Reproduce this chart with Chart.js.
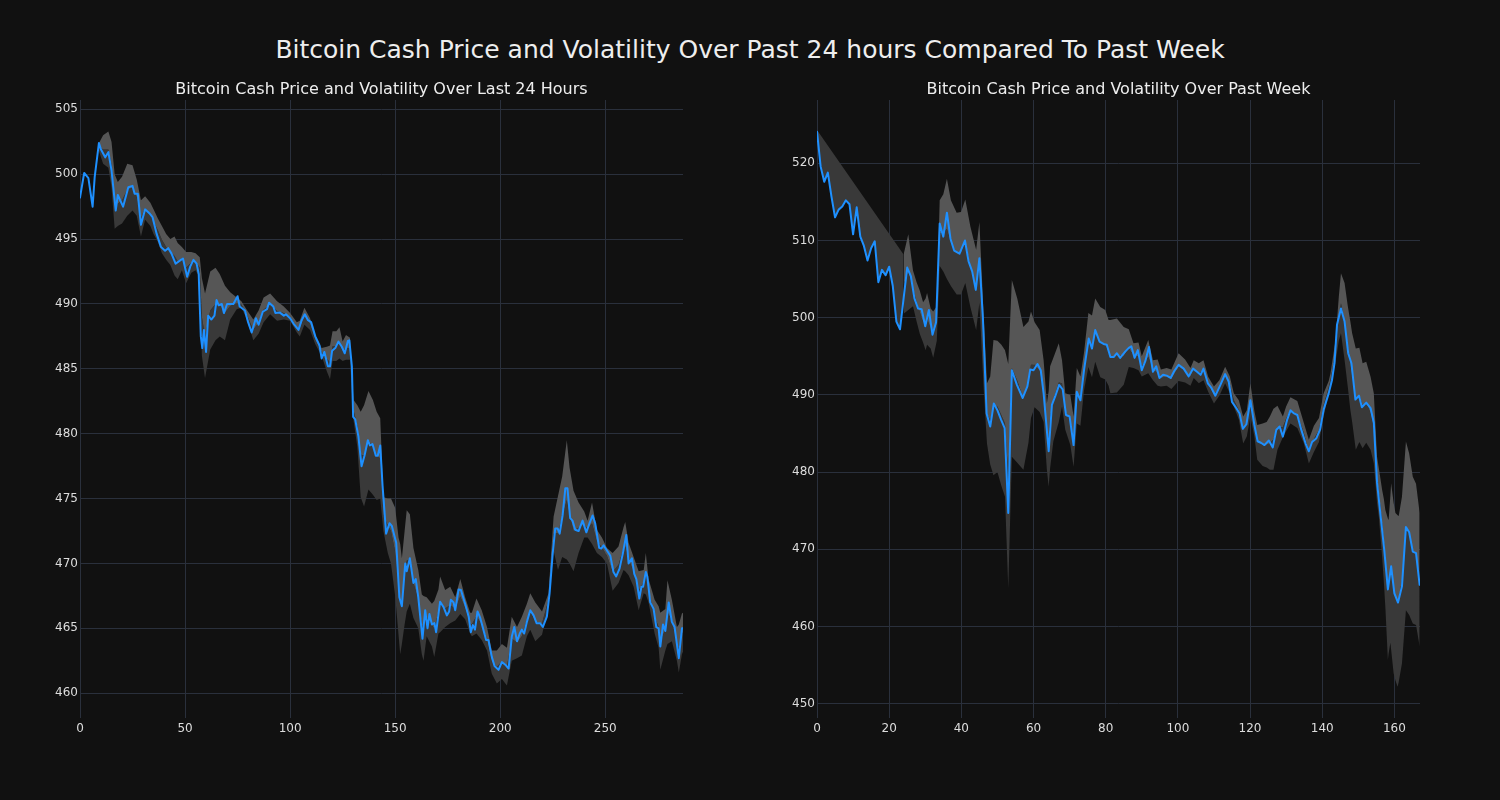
<!DOCTYPE html>
<html>
<head>
<meta charset="utf-8">
<script src="https://cdn.jsdelivr.net/npm/chart.js@4.4.1/dist/chart.umd.min.js"></script>
<style>
  html, body { margin: 0; padding: 0; background: #111111; }
  body { width: 1500px; height: 800px; position: relative; overflow: hidden; font-family: "DejaVu Sans", sans-serif; }
  #title { position: absolute; left: 0; top: 35px; width: 1500px; text-align: center; font-size: 25px; line-height: 30px; color: #eeeeee; }
  canvas { position: absolute; top: 60px; }
  #day-chart { left: 0; }
  #week-chart { left: 740px; }
</style>
</head>
<body>
<div id="title">Bitcoin Cash Price and Volatility Over Past 24 hours Compared To Past Week</div>
<canvas id="day-chart" width="700" height="700"></canvas>
<canvas id="week-chart" width="700" height="700"></canvas>
<script>
// last 24 hours, 5 minute steps
const dayX = [0, 2, 4, 6, 7, 9, 10, 12, 13.5, 15, 17, 18, 20.5, 23, 25, 26, 27.5, 29, 31, 33,
  34.5, 36.5, 38.5, 40.5, 42, 43.5, 45.5, 48, 49, 51, 52.5, 54, 55.5, 56.5, 57.5, 58.2, 59, 60, 61, 62.5,
  64, 65, 66, 67.5, 68.5, 70, 71, 73, 75, 76, 78.5, 80, 81.7, 83.7, 85, 87, 89, 90, 92, 93,
  95, 97, 98, 100, 102, 104, 105.5, 107, 108.5, 110, 112, 114, 115, 116.3, 118, 119, 120, 121.5, 123, 124.6,
  126, 127.5, 128.2, 129.4, 130, 131, 132.5, 134, 135.4, 137, 138, 139.2, 140.8, 141.7, 142.9, 144, 145.7, 147.3, 148.4, 150.5,
  152, 153.2, 154.8, 155.5, 157, 158.7, 159.8, 161, 163, 164.3, 165.4, 166.3, 167.5, 168.7, 169.5, 171.4, 173, 174.6, 175.7, 176.5,
  177.8, 178.6, 180.2, 181.3, 183.3, 185, 186, 187, 188, 189.2, 190.5, 192, 193.3, 194.4, 196, 197.3, 199.2, 200.8, 202.4, 204,
  205.5, 206.7, 208, 209.3, 210.3, 211.4, 212.7, 214.3, 215.9, 217.3, 219, 220.3, 222.2, 223.5, 225, 226.2, 227.3, 228.3, 229.7, 231,
  232, 233.3, 234.4, 235.7, 237.3, 239.2, 241, 242.5, 244, 245.2, 247.1, 248.1, 249.2, 250.8, 252.4, 253.9, 255.2, 256.8, 258.4, 260,
  261.1, 262.7, 263.8, 264.8, 266.2, 267.2, 268, 269.3, 270, 271.4, 273, 274.3, 275.4, 276.2, 277.5, 278.6, 280.2, 281.7, 283, 285,
  286.5, 287]
const dayPrice = [498.2, 500.1, 499.7, 497.5, 499.8, 502.4, 501.9, 501.3, 501.7, 500.3, 497.2, 498.4, 497.5, 499.0, 499.1, 498.5, 498.5, 496.1, 497.3, 497.0,
  496.7, 495.4, 494.4, 494.1, 494.3, 493.9, 493.1, 493.4, 493.5, 492.1, 492.9, 493.4, 493.1, 492.3, 487.5, 486.6, 488.0, 486.3, 489.1, 488.8,
  489.1, 490.3, 489.9, 490.0, 489.3, 490.0, 490.0, 490.0, 490.6, 489.8, 489.5, 488.6, 487.8, 488.9, 488.4, 489.4, 489.6, 490.1, 489.8, 489.3,
  489.35, 489.1, 489.2, 488.9, 488.4, 488.0, 488.75, 489.2, 488.75, 488.6, 487.5, 486.8, 485.8, 486.3, 485.2, 485.2, 486.4, 486.6, 487.1, 486.7,
  486.2, 487.15, 487.2, 485.2, 481.3, 481.1, 479.8, 477.5, 478.3, 479.5, 479.1, 479.2, 478.3, 478.3, 479.1, 476.0, 472.3, 473.1, 472.9, 471.6,
  467.4, 466.7, 470.0, 469.4, 470.4, 468.5, 468.8, 467.4, 464.2, 466.4, 465.0, 466.1, 465.3, 465.4, 464.7, 467.05, 466.65, 466.0, 466.3, 467.2,
  467.0, 466.4, 468.0, 467.95, 466.9, 465.9, 464.7, 465.25, 464.9, 466.3, 465.8, 464.9, 464.1, 464.1, 462.8, 462.1, 461.8, 462.4, 462.2, 461.9,
  464.35, 465.1, 464.0, 464.6, 464.9, 464.6, 465.5, 466.4, 466.0, 465.4, 465.4, 465.1, 465.9, 467.7, 470.8, 472.7, 472.7, 472.3, 473.7, 475.8,
  475.8, 473.5, 473.3, 472.6, 472.5, 473.3, 472.4, 473.1, 473.7, 473.1, 471.2, 471.15, 471.4, 471.0, 470.6, 469.35, 469.0, 469.6, 470.8, 472.2,
  470.0, 470.4, 469.2, 468.8, 467.3, 468.2, 468.2, 469.35, 469.0, 467.0, 466.5, 465.1, 465.0, 463.6, 465.3, 464.8, 467.0, 465.5, 465.1, 462.7,
  465.0, 465.0]
const dayBandX = [9, 11, 13.5, 15, 16.5, 18, 20, 22.5, 25, 27, 29, 31, 33.5, 35, 37, 39, 41, 43, 45, 46.5,
  48.5, 50.5, 53, 55, 57, 58, 59.5, 62, 64.5, 66.5, 69, 71.5, 74.6, 76.8, 79.2, 82.5, 85, 87.4, 90.5, 93.8,
  97, 100, 103.2, 104.6, 106.8, 109.5, 112, 115, 117.5, 119, 120.2, 122, 123.5, 125, 126.6, 128.5, 130.2, 132, 133.6, 135.2,
  137.3, 139.4, 141.2, 142.9, 144.4, 146.5, 148, 150, 151.6, 152.4, 153.2, 154.5, 155.5, 157, 158.7, 161, 162.7, 163.5, 165, 167.5,
  168.6, 170.6, 171.4, 173.8, 176.2, 178.6, 181, 183.3, 185.7, 186.5, 188.7, 191.2, 193.7, 196, 198.4, 200.8, 203.2, 205.5, 208, 210.3,
  212.7, 214.3, 216.7, 219.9, 223, 225.4, 227.5, 229.5, 231.7, 233, 234.9, 237.3, 240, 241.6, 243.7, 246, 248.4, 250.8, 253.5, 256.3,
  258.7, 259.5, 261.1, 263.5, 265.9, 268.3, 269.3, 270.6, 273.5, 275.4, 276.2, 278.6, 279.6, 281.7, 284.1, 285, 286.5, 287]
const dayUpper = [502.4, 503.0, 503.3, 502.5, 500.0, 499.4, 499.8, 500.8, 500.7, 499.6, 498.0, 498.3, 497.8, 497.3, 496.6, 496.0, 495.4, 495.0, 495.2, 494.7,
  494.4, 494.0, 494.0, 493.9, 493.6, 492.0, 490.8, 492.5, 492.8, 492.3, 491.4, 490.9, 490.5, 490.2, 489.6, 488.8, 489.5, 490.5, 490.8, 490.2,
  489.8, 489.3, 488.6, 488.7, 489.7, 488.9, 487.5, 486.6, 486.7, 486.8, 487.9, 487.9, 488.2, 487.1, 487.6, 487.4, 482.6, 482.2, 481.7, 482.2,
  483.3, 482.6, 481.7, 481.2, 475.1, 475.0, 475.0, 474.3, 472.0, 471.5, 470.4, 472.5, 474.1, 473.8, 471.2, 469.5, 467.6, 467.5, 467.4, 466.9,
  467.1, 468.0, 469.0, 467.95, 468.2, 467.4, 468.8, 467.4, 466.2, 466.2, 467.3, 466.4, 465.1, 463.3, 463.3, 463.8, 463.5, 465.9, 465.1, 465.9,
  466.9, 467.7, 467.0, 466.3, 467.7, 473.6, 475.2, 476.7, 479.5, 477.4, 475.6, 474.7, 474.0, 473.3, 474.7, 472.6, 472.0, 471.2, 470.8, 471.3,
  472.8, 473.2, 471.6, 470.5, 469.4, 469.5, 470.8, 468.8, 467.2, 466.7, 466.2, 466.5, 468.7, 467.2, 465.1, 465.3, 466.15, 466.2]
const dayLower = [501.8, 500.8, 500.5, 499.0, 495.8, 496.0, 496.2, 496.8, 497.2, 496.8, 495.2, 496.5, 496.0, 495.4, 494.8, 493.9, 493.4, 493.0, 492.2, 491.9,
  492.6, 491.6, 492.4, 492.6, 492.0, 486.0, 484.3, 486.5, 487.2, 487.5, 487.2, 488.8, 489.6, 489.7, 488.9, 487.2, 487.7, 488.6, 489.2, 488.7,
  488.8, 488.7, 487.8, 487.5, 488.4, 488.0, 486.9, 486.0, 484.8, 484.2, 485.6, 485.6, 485.8, 485.6, 485.7, 485.7, 481.0, 479.0, 475.1, 474.4,
  475.7, 475.3, 474.9, 475.0, 472.5, 470.8, 470.0, 467.5, 464.5, 463.0, 463.8, 465.3, 466.3, 466.9, 465.8, 465.0, 463.0, 462.5, 464.4, 463.6,
  462.8, 464.6, 464.7, 465.1, 465.4, 465.6, 466.1, 465.7, 464.6, 464.4, 464.6, 464.1, 463.3, 461.5, 460.75, 461.1, 460.6, 462.5, 462.7, 462.9,
  464.4, 464.9, 464.0, 464.5, 466.7, 471.0, 469.5, 470.5, 470.3, 470.0, 469.4, 470.8, 472.0, 472.0, 471.5, 470.8, 470.5, 470.0, 467.9, 468.5,
  469.5, 469.4, 469.1, 468.2, 466.4, 467.7, 467.6, 467.0, 464.6, 463.5, 461.8, 463.3, 463.8, 464.0, 462.5, 461.6, 463.0, 463.2]
const dayXTicks = [0, 50, 100, 150, 200, 250]
const dayYTicks = [460, 465, 470, 475, 480, 485, 490, 495, 500, 505]

// past week, hourly steps
const weekX = [0, 1, 2, 3, 4, 5, 6, 7, 8, 9, 10, 11, 12, 13, 14, 15, 16, 17, 18, 19,
  20, 21, 22, 23, 24, 25, 26, 27, 28, 29, 30, 31, 32, 33, 34, 35, 36, 37, 38, 39.5,
  41, 42, 43, 44, 45, 46, 47, 48, 49, 50, 51, 52, 53, 54, 55.4, 57, 58.3, 59.1, 60, 61.1,
  62, 62.8, 64.2, 65.1, 66, 67.1, 68.1, 69, 70, 71.1, 72, 73, 74, 75.3, 76.2, 77.1, 78.3, 79.4, 80.3, 81.3,
  82.2, 83.1, 84, 85.4, 86.4, 87.1, 88, 88.9, 90, 91, 92, 93.1, 94, 94.9, 95.9, 96.9, 98, 99, 100.2, 101.6,
  103, 104.2, 105.3, 106.3, 107.1, 108.3, 109.3, 110.4, 111.8, 113.1, 114.1, 115, 116.3, 117.1, 118, 119, 120.1, 121.2, 122.1, 123,
  124, 125.2, 126.3, 127.3, 128.2, 129.1, 130.3, 131.2, 132.2, 133.1, 134.2, 135.4, 136.3, 137.2, 138.4, 139.4, 140.4, 141.8, 142.7, 143.4,
  144.1, 145.2, 146.2, 147.2, 148.1, 149.2, 150.2, 151, 152.2, 153.4, 154.3, 155.2, 156.3, 157.2, 158.2, 159.1, 160, 161, 162.1, 163.2,
  164.1, 165.1, 166, 167]
const weekPrice = [524.1, 519.6, 517.6, 518.8, 515.7, 513.0, 514.0, 514.4, 515.2, 514.7, 510.8, 514.3, 510.5, 509.3, 507.4, 509.0, 509.9, 504.6, 506.2, 505.5,
  506.6, 504.1, 499.5, 498.5, 502.5, 506.5, 505.4, 502.5, 501.2, 501.1, 498.9, 501.0, 497.8, 499.4, 512.2, 510.5, 513.6, 510.2, 508.7, 508.3,
  510.0, 507.3, 506.0, 503.6, 507.7, 499.7, 487.6, 485.9, 488.9, 488.0, 486.8, 485.7, 474.7, 493.2, 491.3, 489.6, 491.1, 493.3, 493.2, 494.0,
  493.2, 490.2, 482.7, 488.7, 489.8, 491.3, 490.7, 487.4, 487.2, 483.5, 490.4, 489.3, 493.2, 497.3, 496.0, 498.4, 496.9, 496.6, 496.5, 494.9,
  494.9, 495.4, 494.8, 495.6, 496.1, 496.3, 494.8, 495.8, 493.2, 494.4, 496.2, 493.0, 493.7, 492.2, 492.6, 492.5, 492.2, 493.1, 493.9, 493.4,
  492.4, 493.4, 493.0, 492.6, 493.4, 491.5, 490.9, 489.9, 491.3, 492.7, 491.7, 489.1, 488.2, 487.6, 485.6, 486.2, 489.3, 486.1, 484.0, 483.8,
  483.5, 484.1, 483.2, 485.5, 485.9, 484.6, 486.8, 488.0, 487.6, 487.4, 485.5, 483.7, 482.7, 483.9, 484.4, 485.5, 488.1, 490.2, 491.9, 494.1,
  499.1, 501.2, 499.5, 495.4, 494.1, 489.4, 489.9, 488.4, 489.0, 488.3, 486.4, 478.6, 473.8, 469.9, 464.8, 467.8, 464.3, 463.1, 465.2, 472.9,
  472.2, 469.7, 469.5, 465.4]
const weekStartX = [0, 24]
const weekStartUpper = [524.3, 508.2]
const weekBandX = [24, 25.3, 26.6, 27.6, 28.5, 29.4, 30.1, 30.5, 31.5, 32.2, 33.2, 34, 35, 36, 37.1, 38.7, 39.9, 41.1, 42.5, 44.1,
  45, 46.2, 47.1, 48, 48.9, 50, 51.1, 52.1, 53, 54, 55.5, 57.2, 58.6, 59.3, 60.3, 61.7, 62.8, 63.7, 64.2, 64.6,
  65.5, 67, 67.9, 68.8, 70.2, 71.1, 72, 73, 74, 75.2, 76.2, 77.1, 78.5, 79.9, 80.8, 81.3, 83.1, 85, 86.4, 87.7,
  89.1, 90, 91.8, 93.1, 94.4, 95.3, 96.9, 98.2, 100.2, 102, 103.5, 104.4, 105.8, 107.1, 108.4, 110, 111.5, 113.1, 114.4, 115.5,
  116.9, 118.1, 119.1, 120.1, 121.2, 122, 123.5, 124.6, 125.5, 126.5, 127.6, 129.1, 130, 131.2, 133.1, 134.9, 136.3, 137.7, 139.1, 140.4,
  141.8, 142.3, 143.7, 144.6, 145.2, 146.2, 147.1, 147.8, 148.3, 149.3, 150.3, 151.2, 152.2, 153.4, 154.3, 155.2, 155.7, 156.6, 157.1, 157.5,
  158.2, 158.4, 158.9, 159.1, 159.8, 160.3, 160.9, 161.2, 162.1, 163.2, 164.1, 165.1, 166, 167]
const weekUpper = [508.2, 510.8, 506.1, 504.6, 503.5, 502.0, 502.5, 503.2, 501.2, 500.8, 501.5, 515.2, 516.0, 518.0, 515.2, 513.6, 513.7, 515.3, 511.8, 508.8,
  512.4, 500.1, 491.5, 492.4, 497.1, 497.0, 496.5, 495.8, 494.0, 504.9, 502.5, 498.8, 499.5, 500.8, 499.4, 498.4, 494.5, 488.9, 490.5, 493.7,
  494.8, 496.7, 494.5, 490.2, 490.0, 487.2, 493.5, 492.4, 495.5, 500.6, 500.3, 502.5, 501.4, 501.0, 499.7, 499.7, 499.9, 498.8, 498.5, 496.7,
  496.8, 495.0, 497.1, 494.5, 494.6, 493.3, 493.5, 493.3, 495.4, 494.6, 493.5, 494.5, 494.1, 494.5, 492.35, 491.1, 491.9, 493.65, 492.4, 490.2,
  489.3, 487.2, 488.0, 491.5, 487.9, 486.1, 486.3, 486.5, 487.2, 488.2, 488.6, 487.2, 488.5, 489.7, 489.2, 486.4, 484.2, 486.0, 487.0, 490.2,
  491.8, 492.8, 497.1, 502.7, 505.75, 504.5, 501.5, 499.5, 498.0, 496.0, 496.1, 494.1, 494.3, 492.35, 490.2, 482.0, 480.5, 477.7, 476.5, 475.1,
  474.0, 473.8, 477.0, 478.55, 476.0, 474.7, 474.4, 474.3, 476.8, 483.95, 482.4, 479.4, 478.5, 474.7]
const weekLower = [500.5, 501.0, 501.5, 499.5, 497.9, 496.8, 495.8, 496.5, 496.0, 494.8, 497.0, 506.7, 506.0, 505.0, 504.1, 503.0, 503.0, 504.5, 501.4, 498.4,
  501.9, 490.7, 483.7, 481.0, 479.6, 480.0, 478.2, 476.8, 465.0, 482.0, 481.2, 480.3, 483.8, 487.0, 488.4, 487.8, 486.5, 480.3, 478.1, 480.5,
  484.0, 486.5, 488.5, 485.5, 483.5, 480.7, 486.3, 486.0, 490.6, 493.6, 492.3, 494.3, 492.3, 492.0, 491.2, 490.2, 490.3, 491.3, 493.6, 493.5,
  493.2, 492.4, 492.8, 491.9, 491.2, 491.1, 491.2, 490.75, 491.8, 491.6, 491.2, 492.2, 491.5, 491.9, 490.4, 488.9, 489.9, 491.5, 490.2, 488.5,
  486.8, 483.7, 484.6, 487.2, 484.6, 481.6, 480.8, 480.6, 480.3, 480.3, 482.9, 484.5, 485.3, 486.3, 485.7, 483.75, 481.1, 482.6, 483.9, 487.2,
  490.2, 491.0, 494.3, 497.0, 498.0, 494.5, 491.0, 488.05, 486.5, 482.9, 483.9, 483.1, 483.8, 482.9, 481.1, 476.0, 474.2, 469.0, 465.6, 462.5,
  455.7, 456.5, 457.9, 457.0, 453.9, 453.0, 452.2, 452.8, 455.2, 462.1, 461.5, 460.4, 460.2, 457.4]
const weekXTicks = [0, 20, 40, 60, 80, 100, 120, 140, 160]
const weekYTicks = [450, 460, 470, 480, 490, 500, 510, 520]

const lineColor = '#1e90ff'
const bandLight = '#565656'
const bandDark = '#393939'
const gridColor = '#2a303c'
const tickColor = '#dddddd'
const fontFamily = '"DejaVu Sans", sans-serif'

const toPoints = (xs, ys) => xs.map((x, i) => ({ x: x, y: ys[i] }))
const midOf = (up, low) => up.map((u, i) => (u + low[i]) / 2)
const fixTicks = (values) => (scale) => { scale.ticks = values.map(v => ({ value: v })) }

const subTitle = {
  id: 'subTitle',
  afterDraw (chart, args, opts) {
    const { ctx, chartArea } = chart
    ctx.save()
    ctx.font = '16px ' + fontFamily
    ctx.fillStyle = '#eeeeee'
    ctx.textAlign = 'center'
    ctx.textBaseline = 'alphabetic'
    ctx.fillText(opts.text, (chartArea.left + chartArea.right) / 2, 34)
    ctx.restore()
  }
}

function bandLine (points, fill, color) {
  return {
    data: points,
    borderColor: 'transparent',
    borderWidth: 0,
    backgroundColor: color || 'transparent',
    fill: fill
  }
}

function makeDatasets (xs, price, bandX, upper, lower) {
  return [
    { data: toPoints(xs, price), borderColor: lineColor, borderWidth: 2, fill: false },
    bandLine(toPoints(bandX, upper), false),
    bandLine(toPoints(bandX, midOf(upper, lower)), 1, bandLight),
    bandLine(toPoints(bandX, lower), 2, bandDark)
  ]
}

function makeOptions (title, xMax, xTicks, yMin, yMax, yTicks, yWidth, padRight) {
  return {
    responsive: false,
    animation: false,
    devicePixelRatio: 1,
    layout: { padding: { top: 40, right: padRight, bottom: 12, left: 0 } },
    elements: {
      point: { radius: 0, hoverRadius: 0 },
      line: { tension: 0, borderJoinStyle: 'round', borderCapStyle: 'round' }
    },
    plugins: {
      legend: { display: false },
      tooltip: { enabled: false },
      subTitle: { text: title }
    },
    scales: {
      x: {
        type: 'linear',
        min: 0,
        max: xMax,
        afterBuildTicks: fixTicks(xTicks),
        afterFit: (scale) => { scale.height = 30 },
        border: { display: false },
        grid: { color: gridColor, drawTicks: false },
        ticks: {
          maxRotation: 0,
          autoSkip: false,
          padding: 4,
          color: tickColor,
          font: { family: fontFamily, size: 12 }
        }
      },
      y: {
        type: 'linear',
        min: yMin,
        max: yMax,
        afterBuildTicks: fixTicks(yTicks),
        afterFit: (scale) => { scale.width = yWidth },
        border: { display: false },
        grid: { color: gridColor, drawTicks: false },
        ticks: {
          autoSkip: false,
          padding: 2,
          color: tickColor,
          font: { family: fontFamily, size: 12 }
        }
      }
    }
  }
}

new Chart(document.getElementById('day-chart').getContext('2d'), {
  type: 'line',
  data: { datasets: makeDatasets(dayX, dayPrice, dayBandX, dayUpper, dayLower) },
  options: makeOptions('Bitcoin Cash Price and Volatility Over Last 24 Hours', 287, dayXTicks, 458.09, 505.72, dayYTicks, 80, 17),
  plugins: [subTitle]
})

const weekDatasets = makeDatasets(weekX, weekPrice, weekBandX, weekUpper, weekLower)
weekDatasets.push(bandLine(toPoints(weekStartX, weekStartUpper), 0, bandDark))

new Chart(document.getElementById('week-chart').getContext('2d'), {
  type: 'line',
  data: { datasets: weekDatasets },
  options: makeOptions('Bitcoin Cash Price and Volatility Over Past Week', 167.1, weekXTicks, 448.15, 528.2, weekYTicks, 77, 20),
  plugins: [subTitle]
})
</script>
</body>
</html>
